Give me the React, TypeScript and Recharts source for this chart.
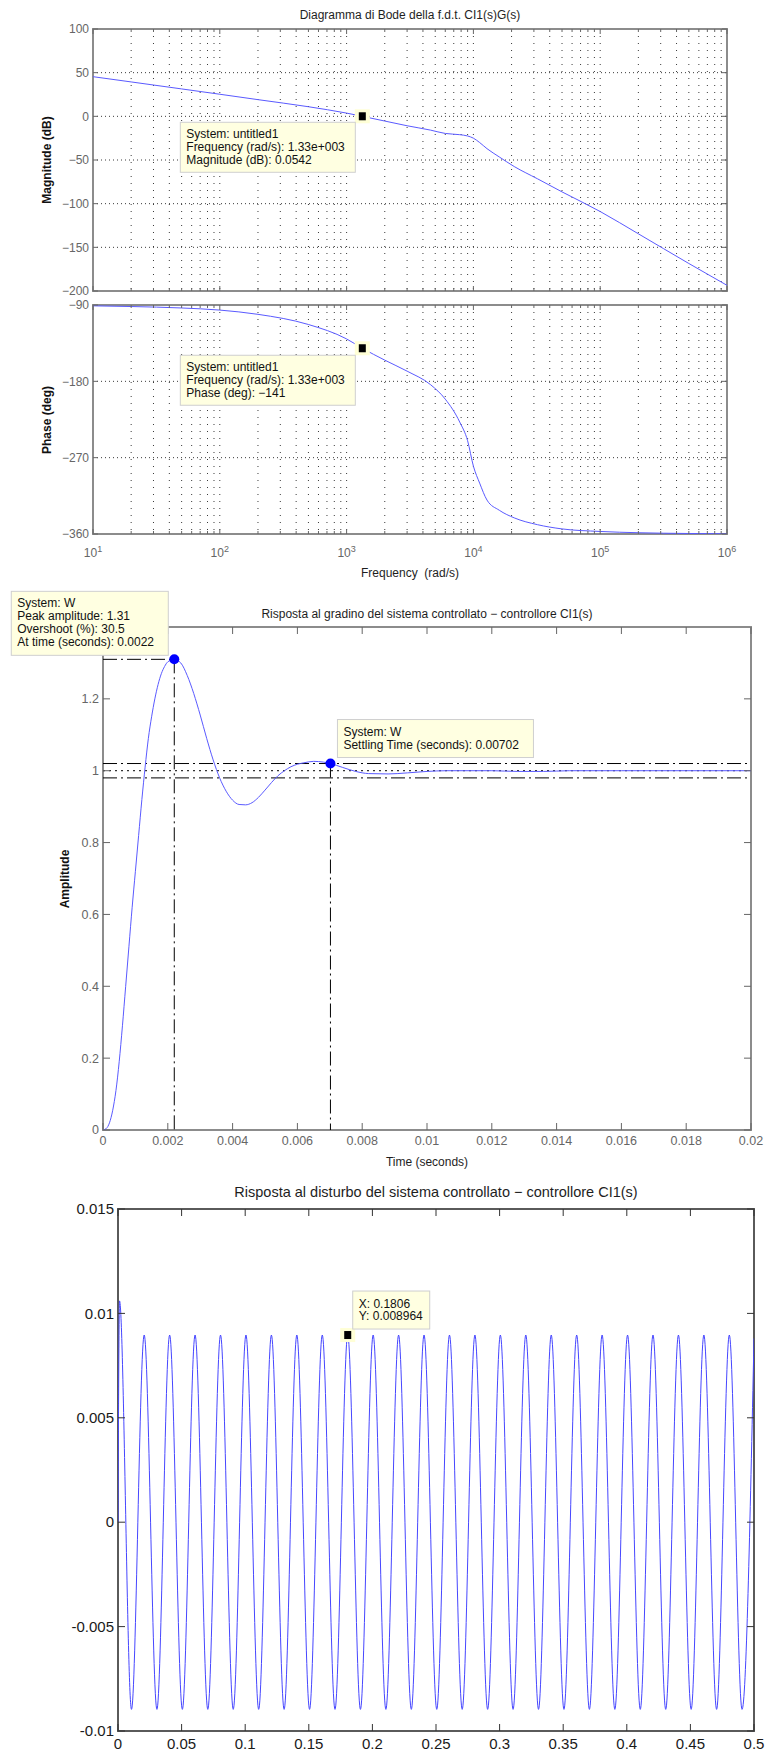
import React from 'react';
import {
  LineChart,
  Line,
  XAxis,
  YAxis,
  CartesianGrid,
  ReferenceLine,
  ReferenceDot,
  ReferenceArea,
} from 'recharts';

const FONT = '"Liberation Sans", Arial, Helvetica, sans-serif';
const W = 766;
const BLUE = '#5a5aff';
const FRAME = '#8c8c8c';
const TICK = '#666';
const TICK_LABEL = '#666';
const GRID = '#3a3a3a';
const TIP_BG = '#ffffe1';

// Bode of CI1(s)G(s): frequency (rad/s), magnitude (dB), phase (deg)
const bodeFreq = [10, 20, 50, 100, 200, 500, 1000, 1330, 2000, 3000, 4600, 6000, 7800, 9000, 10000, 11200, 12800, 16000, 21000, 32000, 50000, 100000, 200000, 500000, 1000000];
const bodeMag = [45.4, 39.4, 31.4, 25.3, 19.1, 11.0, 3.7, 0.0542, -5.4, -10.8, -15.8, -19.6, -21.0, -22.5, -25.0, -30.0, -37.0, -46.5, -57.5, -71.5, -86.5, -109, -134.5, -168.5, -193.5];
const bodePhase = [-91.0, -91.8, -93.5, -96.0, -101.0, -113.0, -130.0, -141, -155, -168, -184, -201, -228, -250, -280, -300, -320, -332, -341, -349, -354, -357, -358.5, -359.4, -359.7];

const bodeDecades = [10, 100, 1000, 10000, 100000, 1000000];
const bodeMinor = [2, 3, 4, 5, 6, 7, 8, 9];
const magTicks = [-200, -150, -100, -50, 0, 50, 100];
const phaseTicks = [-360, -270, -180, -90];

const magTip = { freq: 1330, db: 0.0542 };
const phaseTip = { freq: 1330, deg: -141 };

// closed-loop step response W(s)
const stepTime = [
  0, 0.0001, 0.0002, 0.0003, 0.0004, 0.0005, 0.0006, 0.0007, 0.0008, 0.0009, 0.001,
  0.0011, 0.0012, 0.0013, 0.0014, 0.0015, 0.0016, 0.0017, 0.0018, 0.0019, 0.002,
  0.0022, 0.0024, 0.0026, 0.0028, 0.003, 0.0032, 0.0034, 0.0036, 0.0038, 0.004,
  0.0042, 0.0044, 0.0046, 0.0048, 0.005, 0.0052, 0.0054, 0.0056, 0.0058, 0.006, 0.0062,
  0.0065, 0.0068, 0.00702, 0.0074, 0.0078, 0.0082, 0.0088, 0.0094, 0.01, 0.0106,
  0.012, 0.0128, 0.0136, 0.0144, 0.016, 0.018, 0.02,
];
const stepAmp = [
  0, 0.004, 0.02, 0.055, 0.11, 0.19, 0.29, 0.4, 0.51, 0.62, 0.72,
  0.82, 0.92, 1.01, 1.09, 1.15, 1.2, 1.24, 1.27, 1.29, 1.303,
  1.31, 1.3, 1.265, 1.215, 1.155, 1.09, 1.03, 0.98, 0.943, 0.918,
  0.906, 0.905, 0.911, 0.926, 0.946, 0.967, 0.986, 1.0, 1.011, 1.018, 1.022,
  1.026, 1.024, 1.02, 1.009, 0.998, 0.992, 0.991, 0.994, 0.998, 1.0,
  1.0, 0.998, 0.998, 1.0, 1.0, 1.0, 1.0,
];
const stepTimeTicks = [0, 0.002, 0.004, 0.006, 0.008, 0.01, 0.012, 0.014, 0.016, 0.018, 0.02];
const stepAmpTicks = [0, 0.2, 0.4, 0.6, 0.8, 1, 1.2];
const stepPeak = { t: 0.0022, amp: 1.31, overshoot: 30.5 };
const stepSettle = { t: 0.00702, amp: 1.02 };
const settleBand = [0.98, 1.02];

// disturbance response: extrema of the 50 Hz ripple
const distTime = [
  0, 0.0012, 0.0106, 0.0206, 0.0306, 0.0406, 0.0506, 0.0606, 0.0706, 0.0806, 0.0906,
  0.1006, 0.1106, 0.1206, 0.1306, 0.1406, 0.1506, 0.1606, 0.1706, 0.1806, 0.1906,
  0.2006, 0.2106, 0.2206, 0.2306, 0.2406, 0.2506, 0.2606, 0.2706, 0.2806, 0.2906,
  0.3006, 0.3106, 0.3206, 0.3306, 0.3406, 0.3506, 0.3606, 0.3706, 0.3806, 0.3906,
  0.4006, 0.4106, 0.4206, 0.4306, 0.4406, 0.4506, 0.4606, 0.4706, 0.4806, 0.4906, 0.5,
];
const distValue = [
  0, 0.0106, -0.008964, 0.008964, -0.008964, 0.008964, -0.008964, 0.008964, -0.008964, 0.008964, -0.008964,
  0.008964, -0.008964, 0.008964, -0.008964, 0.008964, -0.008964, 0.008964, -0.008964, 0.008964, -0.008964,
  0.008964, -0.008964, 0.008964, -0.008964, 0.008964, -0.008964, 0.008964, -0.008964, 0.008964, -0.008964,
  0.008964, -0.008964, 0.008964, -0.008964, 0.008964, -0.008964, 0.008964, -0.008964, 0.008964, -0.008964,
  0.008964, -0.008964, 0.008964, -0.008964, 0.008964, -0.008964, 0.008964, -0.008964, 0.008964, -0.008964, 0.0088,
];
const distTimeTicks = [0, 0.05, 0.1, 0.15, 0.2, 0.25, 0.3, 0.35, 0.4, 0.45, 0.5];
const distValueTicks = [-0.01, -0.005, 0, 0.005, 0.01, 0.015];
const distTip = { t: 0.1806, y: 0.008964 };

const bodeData = bodeFreq.map((f, i) => ({ f, mag: bodeMag[i], phase: bodePhase[i] }));
const bodeTicks = bodeDecades.flatMap((d, i) =>
  i < bodeDecades.length - 1 ? [d, ...bodeMinor.map((m) => m * d)] : [d]
);
const stepData = stepTime.map((t, i) => ({ t, amp: stepAmp[i] }));
const distData = distTime.map((t, i) => ({ t, y: distValue[i] }));

const minus = (v: number) => (v < 0 ? `\u2212${Math.abs(v)}` : `${v}`);
const matlabExp = (v: number) => {
  const e = Math.floor(Math.log10(v));
  const m = v / 10 ** e;
  return `${m.toFixed(2)}e${e >= 0 ? '+' : '-'}${String(Math.abs(e)).padStart(3, '0')}`;
};

type Plot = { left: number; top: number; right: number; bottom: number };
type Frame = { top: number; height: number; plot: Plot };

const MAG: Frame = { top: 0, height: 298, plot: { left: 93, top: 29, right: 727, bottom: 291 } };
const PHASE: Frame = { top: 298, height: 287, plot: { left: 93, top: 305, right: 727, bottom: 534 } };
const STEP: Frame = { top: 585, height: 590, plot: { left: 103, top: 627, right: 751, bottom: 1130 } };
const DIST: Frame = { top: 1175, height: 578, plot: { left: 118, top: 1209, right: 754, bottom: 1731 } };

const chartProps = (f: Frame) => ({
  width: W,
  height: f.height,
  margin: { top: f.plot.top - f.top, right: W - f.plot.right, bottom: 0, left: 0 },
});
const xHeight = (f: Frame) => f.top + f.height - f.plot.bottom;
const plotW = (f: Frame) => f.plot.right - f.plot.left;
const plotH = (f: Frame) => f.plot.bottom - f.plot.top;

type LabelFn = (v: number, x: number, y: number) => React.ReactNode;

// inward tick marks on bottom and top edges, optional label under the bottom one
const xTick = (span: number, len: (v: number) => number, stroke: string, label?: LabelFn) =>
  (props: any) => {
    const { x, y, payload } = props;
    const v = payload.value as number;
    const l = len(v);
    return (
      <g>
        <line x1={x} y1={y} x2={x} y2={y - l} stroke={stroke} />
        <line x1={x} y1={y - span} x2={x} y2={y - span + l} stroke={stroke} />
        {label ? label(v, x, y) : null}
      </g>
    );
  };

// inward tick marks on left and right edges, label left of the axis
const yTick = (span: number, len: number, stroke: string, label: LabelFn) =>
  (props: any) => {
    const { x, y, payload } = props;
    const v = payload.value as number;
    return (
      <g>
        <line x1={x} y1={y} x2={x + len} y2={y} stroke={stroke} />
        <line x1={x + span} y1={y} x2={x + span - len} y2={y} stroke={stroke} />
        {label(v, x, y)}
      </g>
    );
  };

const yLabel = (fmt: (v: number) => string, size: number, fill: string, gap = 4): LabelFn =>
  (v, x, y) => (
    <text x={x - gap} y={y} dy="0.35em" textAnchor="end" fontFamily={FONT} fontSize={size} fill={fill}>
      {fmt(v)}
    </text>
  );

const xLabel = (fmt: (v: number) => string, size: number, fill: string, dy: number): LabelFn =>
  (v, x, y) => (
    <text x={x} y={y + dy} textAnchor="middle" fontFamily={FONT} fontSize={size} fill={fill}>
      {fmt(v)}
    </text>
  );

const isDecade = (v: number) => Math.abs(Math.log10(v) - Math.round(Math.log10(v))) < 1e-6;

const decadeLabel: LabelFn = (v, x, y) =>
  isDecade(v) ? (
    <text x={x} y={y + 23} textAnchor="middle" fontFamily={FONT} fontSize={12} fill={TICK_LABEL}>
      <tspan>10</tspan>
      <tspan dy={-5} fontSize={9}>{Math.round(Math.log10(v))}</tspan>
    </text>
  ) : null;

const tipText = (lines: string[], x: number, y0: number, lh: number, size = 12) =>
  lines.map((s, i) => (
    <text key={i} x={x} y={y0 + i * lh} fontFamily={FONT} fontSize={size} fill="#111">
      {s}
    </text>
  ));

const squareMarker = (cx: number, cy: number) => (
  <g>
    <rect x={cx - 7.5} y={cy - 7} width={15} height={14} fill="#ffffd6" />
    <rect x={cx - 3.5} y={cy - 4} width={7} height={8} fill="#000" />
  </g>
);

const bodeTip = (lines: string[], boxDy: number) => (props: any) => {
  const { cx, cy } = props;
  return (
    <g>
      {squareMarker(cx, cy)}
      <rect x={cx - 182} y={cy + boxDy} width={175} height={50} fill={TIP_BG} stroke="#cfcfcf" />
      {tipText(lines, cx - 176, cy + boxDy + 16, 13)}
    </g>
  );
};

function BodeMagnitude() {
  const f = MAG;
  const lines = [
    'System: untitled1',
    `Frequency (rad/s): ${matlabExp(magTip.freq)}`,
    `Magnitude (dB): ${magTip.db}`,
  ];
  return (
    <div style={{ position: 'absolute', left: 0, top: f.top }}>
      <LineChart {...chartProps(f)} data={bodeData}>
        <CartesianGrid horizontal={false} stroke={GRID} strokeDasharray="1 6" />
        <CartesianGrid vertical={false} stroke={GRID} strokeDasharray="1 3" />
        <ReferenceArea x1={10} x2={1000000} y1={-200} y2={100} fill="none" fillOpacity={0} stroke={FRAME} strokeWidth={2} />
        <XAxis
          dataKey="f" type="number" scale="log" domain={[10, 1000000]} ticks={bodeTicks} interval={0}
          allowDataOverflow height={xHeight(f)} axisLine={false} tickLine={false} tickSize={0} tickMargin={0}
          tick={xTick(plotH(f), (v) => (isDecade(v) ? 5 : 3), TICK)}
        />
        <YAxis
          type="number" domain={[-200, 100]} ticks={magTicks} interval={0} allowDataOverflow
          width={f.plot.left} axisLine={false} tickLine={false} tickSize={0} tickMargin={0}
          tick={yTick(plotW(f), 5, TICK, yLabel(minus, 12, TICK_LABEL))}
        />
        <Line dataKey="mag" type="monotone" stroke={BLUE} strokeWidth={1} dot={false} isAnimationActive={false} />
        <ReferenceDot x={magTip.freq} y={magTip.db} zIndex={2500} shape={bodeTip(lines, 6)} />
      </LineChart>
    </div>
  );
}

function BodePhase() {
  const f = PHASE;
  const lines = [
    'System: untitled1',
    `Frequency (rad/s): ${matlabExp(phaseTip.freq)}`,
    `Phase (deg): ${minus(phaseTip.deg)}`,
  ];
  return (
    <div style={{ position: 'absolute', left: 0, top: f.top }}>
      <LineChart {...chartProps(f)} data={bodeData}>
        <CartesianGrid horizontal={false} stroke={GRID} strokeDasharray="1 6" />
        <CartesianGrid vertical={false} stroke={GRID} strokeDasharray="1 3" />
        <ReferenceArea x1={10} x2={1000000} y1={-360} y2={-90} fill="none" fillOpacity={0} stroke={FRAME} strokeWidth={2} />
        <XAxis
          dataKey="f" type="number" scale="log" domain={[10, 1000000]} ticks={bodeTicks} interval={0}
          allowDataOverflow height={xHeight(f)} axisLine={false} tickLine={false} tickSize={0} tickMargin={0}
          tick={xTick(plotH(f), (v) => (isDecade(v) ? 5 : 3), TICK, decadeLabel)}
        />
        <YAxis
          type="number" domain={[-360, -90]} ticks={phaseTicks} interval={0} allowDataOverflow
          width={f.plot.left} axisLine={false} tickLine={false} tickSize={0} tickMargin={0}
          tick={yTick(plotW(f), 5, TICK, yLabel(minus, 12, TICK_LABEL))}
        />
        <Line dataKey="phase" type="monotone" stroke={BLUE} strokeWidth={1} dot={false} isAnimationActive={false} />
        <ReferenceDot x={phaseTip.freq} y={phaseTip.deg} zIndex={2500} shape={bodeTip(lines, 7)} />
      </LineChart>
    </div>
  );
}

const DASH_DOT = '14 4 2 4';

function StepResponse() {
  const f = STEP;
  const peakLines = [
    'System: W',
    `Peak amplitude: ${stepPeak.amp}`,
    `Overshoot (%): ${stepPeak.overshoot}`,
    `At time (seconds): ${stepPeak.t}`,
  ];
  const settleLines = ['System: W', `Settling Time (seconds): ${stepSettle.t}`];
  return (
    <div style={{ position: 'absolute', left: 0, top: f.top }}>
      <LineChart {...chartProps(f)} data={stepData}>
        <ReferenceArea x1={0} x2={0.02} y1={0} y2={1.4} fill="none" fillOpacity={0} stroke={FRAME} strokeWidth={2} />
        <XAxis
          dataKey="t" type="number" domain={[0, 0.02]} ticks={stepTimeTicks} interval={0}
          allowDataOverflow height={xHeight(f)} axisLine={false} tickLine={false} tickSize={0} tickMargin={0}
          tick={xTick(plotH(f), () => 7, TICK, xLabel(String, 12.5, TICK_LABEL, 14.5))}
        />
        <YAxis
          type="number" domain={[0, 1.4]} ticks={stepAmpTicks} interval={0} allowDataOverflow
          width={f.plot.left} axisLine={false} tickLine={false} tickSize={0} tickMargin={0}
          tick={yTick(plotW(f), 7, TICK, yLabel(String, 12.5, TICK_LABEL, 4))}
        />
        {settleBand.map((b) => (
          <ReferenceLine key={b} y={b} stroke="#000" strokeDasharray={DASH_DOT} />
        ))}
        <ReferenceLine y={1} stroke="#000" strokeDasharray="2 4" />
        <ReferenceLine
          segment={[{ x: 0, y: stepPeak.amp }, { x: stepPeak.t, y: stepPeak.amp }]}
          stroke="#000" strokeDasharray={DASH_DOT}
        />
        <ReferenceLine
          segment={[{ x: stepPeak.t, y: stepPeak.amp }, { x: stepPeak.t, y: 0 }]}
          stroke="#000" strokeDasharray={DASH_DOT}
        />
        <ReferenceLine
          segment={[{ x: stepSettle.t, y: stepSettle.amp }, { x: stepSettle.t, y: 0 }]}
          stroke="#000" strokeDasharray={DASH_DOT}
        />
        <Line dataKey="amp" type="monotone" stroke={BLUE} strokeWidth={1} dot={false} isAnimationActive={false} />
        <ReferenceDot
          x={stepPeak.t} y={stepPeak.amp} zIndex={2500}
          shape={(p: any) => (
            <g>
              <circle cx={p.cx} cy={p.cy} r={5} fill="#0000ff" />
              <rect x={p.cx - 163} y={p.cy - 68} width={157} height={64} fill={TIP_BG} stroke="#cfcfcf" />
              {tipText(peakLines, p.cx - 157, p.cy - 52, 13)}
            </g>
          )}
        />
        <ReferenceDot
          x={stepSettle.t} y={stepSettle.amp} zIndex={2500}
          shape={(p: any) => (
            <g>
              <circle cx={p.cx} cy={p.cy} r={5} fill="#0000ff" />
              <rect x={p.cx + 7} y={p.cy - 44} width={196} height={38} fill={TIP_BG} stroke="#cfcfcf" />
              {tipText(settleLines, p.cx + 13, p.cy - 28, 13.5)}
            </g>
          )}
        />
      </LineChart>
    </div>
  );
}

function DisturbanceResponse() {
  const f = DIST;
  const lines = [`X: ${distTip.t}`, `Y: ${distTip.y}`];
  return (
    <div style={{ position: 'absolute', left: 0, top: f.top }}>
      <LineChart {...chartProps(f)} data={distData}>
        <ReferenceArea x1={0} x2={0.5} y1={-0.01} y2={0.015} fill="none" fillOpacity={0} stroke="#5a5a5a" strokeWidth={2} />
        <XAxis
          dataKey="t" type="number" domain={[0, 0.5]} ticks={distTimeTicks} interval={0}
          allowDataOverflow height={xHeight(f)} axisLine={false} tickLine={false} tickSize={0} tickMargin={0}
          tick={xTick(plotH(f), () => 7, '#333', xLabel(String, 15, '#1a1a1a', 17.5))}
        />
        <YAxis
          type="number" domain={[-0.01, 0.015]} ticks={distValueTicks} interval={0} allowDataOverflow
          width={f.plot.left} axisLine={false} tickLine={false} tickSize={0} tickMargin={0}
          tick={yTick(plotW(f), 7, '#333', yLabel(String, 15, '#1a1a1a', 4))}
        />
        <Line dataKey="y" type="monotone" stroke="#4646ff" strokeWidth={1} dot={false} isAnimationActive={false} />
        <ReferenceDot
          x={distTip.t} y={distTip.y} zIndex={2500}
          shape={(p: any) => (
            <g>
              {squareMarker(p.cx, p.cy)}
              <rect x={p.cx + 5} y={p.cy - 44} width={77} height={38} fill={TIP_BG} stroke="#cfcfcf" />
              {tipText(lines, p.cx + 11, p.cy - 27.5, 12)}
            </g>
          )}
        />
      </LineChart>
    </div>
  );
}

type TextProps = {
  x: number;
  y: number;
  size?: number;
  bold?: boolean;
  color?: string;
  rotate?: boolean;
  children: React.ReactNode;
};

const Text = ({ x, y, size = 12, bold = false, color = '#1e1e1e', rotate = false, children }: TextProps) => (
  <div
    style={{
      position: 'absolute',
      left: x,
      top: y,
      transform: `translate(-50%, -50%)${rotate ? ' rotate(-90deg)' : ''}`,
      whiteSpace: 'pre',
      fontFamily: FONT,
      fontSize: size,
      fontWeight: bold ? 700 : 400,
      color,
      lineHeight: 1,
    }}
  >
    {children}
  </div>
);

const midX = (f: Frame) => (f.plot.left + f.plot.right) / 2;
const midY = (f: Frame) => (f.plot.top + f.plot.bottom) / 2;

export default function App() {
  return (
    <div
      style={{
        position: 'absolute',
        left: 0,
        top: 0,
        width: W,
        height: 1753,
        background: '#fff',
        overflow: 'hidden',
      }}
    >
      <BodeMagnitude />
      <BodePhase />
      <StepResponse />
      <DisturbanceResponse />

      <Text x={midX(MAG)} y={15}>Diagramma di Bode della f.d.t. CI1(s)G(s)</Text>
      <Text x={47} y={midY(MAG)} bold rotate color="#111">Magnitude (dB)</Text>
      <Text x={47} y={midY(PHASE)} bold rotate color="#111">Phase (deg)</Text>
      <Text x={midX(PHASE)} y={573}>{'Frequency  (rad/s)'}</Text>

      <Text x={midX(STEP)} y={614}>Risposta al gradino del sistema controllato − controllore CI1(s)</Text>
      <Text x={65} y={midY(STEP)} bold rotate color="#111">Amplitude</Text>
      <Text x={midX(STEP)} y={1162}>Time (seconds)</Text>

      <Text x={midX(DIST)} y={1192} size={14.5}>
        Risposta al disturbo del sistema controllato − controllore CI1(s)
      </Text>
    </div>
  );
}
